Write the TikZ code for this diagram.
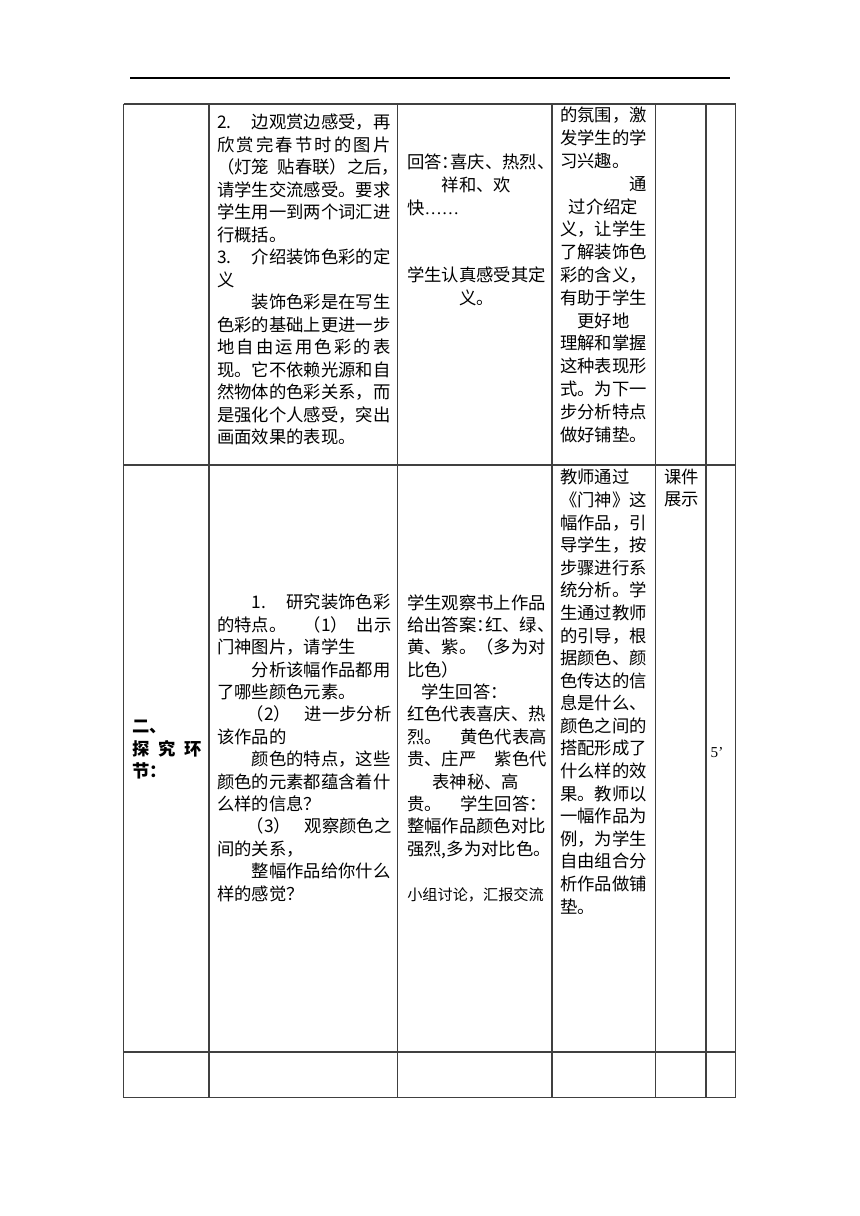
\documentclass[tikz,border=0pt]{standalone}
\usepackage{fontspec}
\setmainfont{Noto Sans CJK SC}
\newfontfamily\latinfont{Liberation Serif}

% spread the characters of a line evenly over #1 em
\makeatletter
\newcommand\spread[2]{\leavevmode\hbox to #1em{\spread@loop#2\relax}}
\def\spread@loop#1{#1\futurelet\spread@next\spread@check}
\def\spread@check{\ifx\spread@next\relax\expandafter\spread@stop\else\hfil\expandafter\spread@loop\fi}
\def\spread@stop\relax{}
\makeatother

\tikzset{
  rule/.style={draw=black!75, line width=0.8pt},
  cell/.style={anchor=north west, inner sep=0pt, align=left,
    font=\fontsize{12pt}{15.5pt}\selectfont},
}

\begin{document}
\begin{tikzpicture}[x=0.69218pt, y=-0.69218pt]

  \path[fill=white] (0,0) rectangle (860,1216);
  \useasboundingbox (0,0) rectangle (860,1216);

  % page header rule
  \draw[black, line width=0.7pt] (130,78) -- (730,78);

  % table grid
  \foreach \x in {123.5,209,397.5,552,655.5,706,735.5}
    \draw[rule] (\x,104) -- (\x,1097.5);
  \foreach \y in {104,465,1052,1097.5}
    \draw[rule] (123.5,\y) -- (735.5,\y);

  % row 1
  \node (import-task) at (217,113.7) [cell, text width=120.5pt,
      font=\fontsize{12pt}{15.57pt}\selectfont]
    {\makebox[2em][l]{2.}边观赏边感受，再\\
     \spread{10}{欣赏完春节时的图片}\\
     \leavevmode\hbox to 10em{（灯笼\hfil 贴春联）之后\makebox[0.5em][l]{，}}\\
     请学生交流感受。要求\\
     学生用一到两个词汇进\\
     行概括。\\
     \makebox[2em][l]{3.}介绍装饰色彩的定\\
     义\\
     \hspace*{2em}装饰色彩是在写生\\
     色彩的基础上更进一步\\
     \spread{10}{地自由运用色彩的表}\\
     现。它不依赖光源和自\\
     然物体的色彩关系，而\\
     是强化个人感受，突出\\
     画面效果的表现。};

  \node (import-answer) at (407,154) [cell, text width=96.5pt,
      font=\fontsize{12pt}{15.64pt}\selectfont]
    {回答\makebox[0.5em][l]{：}喜庆、热烈\makebox[0.5em][l]{、}\\
     \hspace*{2em}祥和、欢\\
     快{\latinfont ……}\\[31.28pt]
     学生认真感受其定\\
     \hspace*{3em}义。};

  \node (import-aim) at (560,107) [cell, text width=60.5pt,
      font=\fontsize{12pt}{15.78pt}\selectfont]
    {的氛围，激\\
     发学生的学\\
     习兴趣。\\
     \hspace*{4em}通\\
     \hspace*{0.5em}过介绍定\\
     义，让学生\\
     了解装饰色\\
     彩的含义，\\
     有助于学生\\
     \hspace*{1em}更好地\\
     理解和掌握\\
     这种表现形\\
     式。为下一\\
     步分析特点\\
     做好铺垫。};

  % row 2
  \node (explore-head) at (132,720) [cell, text width=48.5pt,
      font=\fontsize{12pt}{15.57pt}\selectfont\bfseries]
    {二、\\
     \spread{4}{探究环}\\
     节：};

  \node (explore-task) at (217,594) [cell, text width=120.5pt]
    {\hspace*{2em}\makebox[2em][l]{1.}研究装饰色彩\\
     的特点。\hspace{1em}（1）\hfill 出示\\
     门神图片，请学生\\
     \hspace*{2em}分析该幅作品都用\\
     了哪些颜色元素。\\
     \hspace*{1.7em}（2）\hfill 进一步分析\\
     该作品的\\
     \hspace*{2em}颜色的特点，这些\\
     颜色的元素都蕴含着什\\
     么样的信息？\\
     \hspace*{1.7em}（3）\hfill 观察颜色之\\
     间的关系，\\
     \hspace*{2em}整幅作品给你什么\\
     样的感觉？};

  \node (explore-answer) at (407,594) [cell, text width=96.5pt]
    {学生观察书上作品\\
     给出答案\makebox[0.5em][l]{：}红、绿\makebox[0.5em][l]{、}\\
     黄、紫。（多为对\\
     比色）\\
     \hspace*{0.8em}学生回答：\\
     红色代表喜庆、热\\
     烈。\hfill 黄色代表高\\
     贵、庄严\hfill 紫色代\\
     \hspace*{1.45em}表神秘、高\\
     贵。\hfill 学生回答：\\
     整幅作品颜色对比\\
     强烈,多为对比色\makebox[0.5em][l]{。}\\[15.6pt]
     {\fontsize{10.5pt}{12pt}\selectfont 小组讨论，汇报交流}};

  \node (explore-aim) at (560,469) [cell, text width=60.5pt,
      font=\fontsize{12pt}{15.64pt}\selectfont]
    {教师通过\\
     《门神》这\\
     幅作品，引\\
     导学生，按\\
     步骤进行系\\
     统分析。学\\
     生通过教师\\
     的引导，根\\
     据颜色、颜\\
     色传达的信\\
     息是什么、\\
     颜色之间的\\
     搭配形成了\\
     什么样的效\\
     果。教师以\\
     一幅作品为\\
     例，为学生\\
     自由组合分\\
     析作品做铺\\
     垫。};

  \node (explore-media) at (664,469) [cell, text width=24.5pt,
      font=\fontsize{12pt}{14.95pt}\selectfont]
    {课件\\
     展示};

  \node (explore-time) at (717,753)
    [inner sep=0pt, font=\fontsize{10.5pt}{12pt}\latinfont] {5’};

\end{tikzpicture}
\end{document}
